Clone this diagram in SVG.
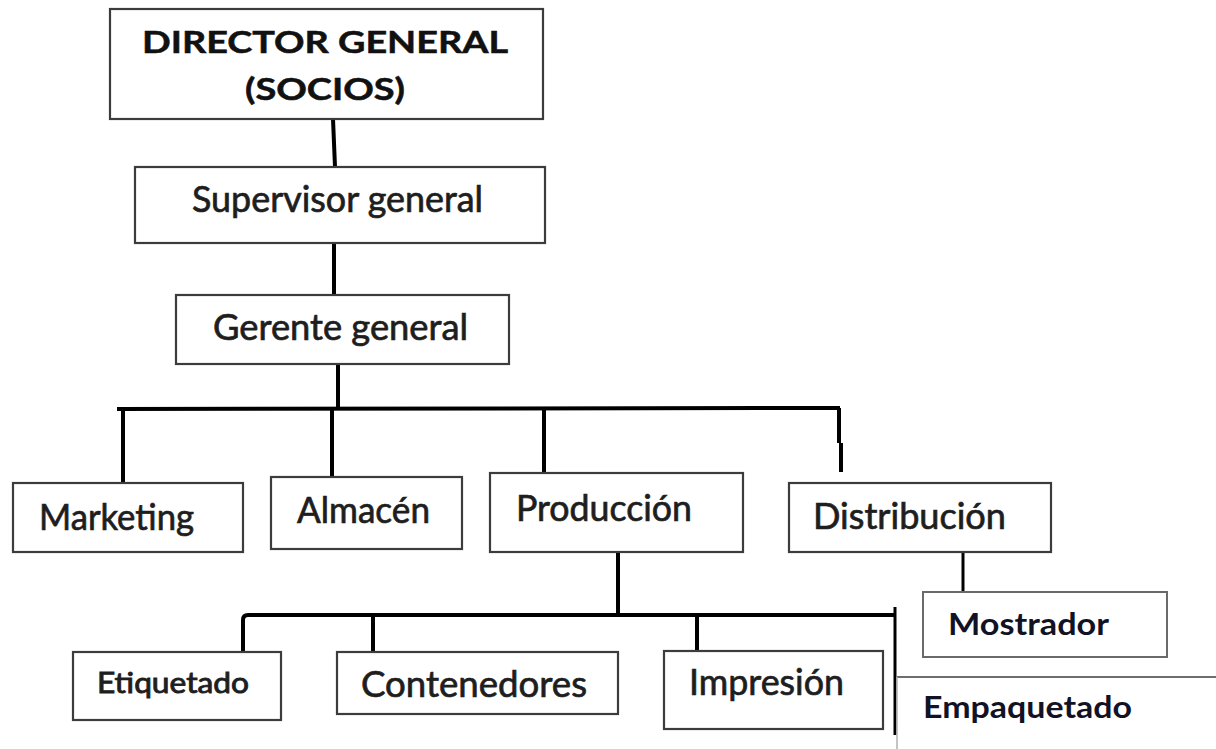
<svg xmlns="http://www.w3.org/2000/svg" width="1216" height="749" viewBox="0 0 1216 749">
<style>
.box{fill:#fff;stroke:#3c3c3c;stroke-width:2.2}
.lbox{fill:#fff;stroke:#6a6a6a;stroke-width:2}
.t{font-family:Lato,"Open Sans","Liberation Sans",sans-serif;fill:#1e1e1e;stroke:#1e1e1e;stroke-width:0.7;font-size:36px}
.tb{font-family:Lato,"Liberation Sans",sans-serif;font-weight:700;fill:#111;stroke:#111;stroke-width:0.5;font-size:30px}
.tc{font-family:Lato,"Open Sans","Liberation Sans",sans-serif;font-weight:700;fill:#121225;font-size:30px}
.c{stroke:#000;stroke-width:4;fill:none;stroke-linecap:butt}
</style>
<rect width="1216" height="749" fill="#fff"/>
<g id="connectors">
<path class="c" d="M333 119 L335 167"/>
<path class="c" d="M334 243 L334 295"/>
<path class="c" d="M338 364 L338 409"/>
<path class="c" d="M117 409 L840 408"/>
<path class="c" d="M123 409 L123 483"/>
<path class="c" d="M332 409 L332 477"/>
<path class="c" d="M544 409 L544 473"/>
<path class="c" d="M839 408 L839 443 M841 443 L841 472"/>
<path class="c" d="M618 552 L618 615"/>
<path class="c" d="M243 652 L243 620 Q243 615 248 615 L895 615"/>
<path class="c" d="M373 615 L373 652"/>
<path class="c" d="M697 615 L697 651"/>
<path class="c" style="stroke-width:3" d="M895 607 L895 735"/>
<path class="c" style="stroke-width:3" d="M963 552 L963 592"/>
</g>
<g id="director"><rect class="box" x="110" y="9" width="433" height="110"/>
<text class="tb" x="142" y="53" textLength="366" lengthAdjust="spacingAndGlyphs">DIRECTOR GENERAL</text>
<text class="tb" x="245" y="100" textLength="160" lengthAdjust="spacingAndGlyphs">(SOCIOS)</text></g>
<g id="supervisor"><rect class="box" x="135" y="167" width="410" height="76"/>
<text class="t" x="192" y="212" textLength="291" lengthAdjust="spacingAndGlyphs">Supervisor general</text></g>
<g id="gerente"><rect class="box" x="176" y="295" width="333" height="69"/>
<text class="t" x="213" y="340" textLength="255" lengthAdjust="spacingAndGlyphs">Gerente general</text></g>
<g id="marketing"><rect class="box" x="13" y="483" width="230" height="69"/>
<text class="t" x="39" y="530" textLength="155" lengthAdjust="spacingAndGlyphs">Marketing</text></g>
<g id="almacen"><rect class="box" x="271" y="477" width="191" height="72"/>
<text class="t" x="297" y="523" textLength="133" lengthAdjust="spacingAndGlyphs">Almacén</text></g>
<g id="produccion"><rect class="box" x="490" y="473" width="253" height="79"/>
<text class="t" x="516" y="521" textLength="176" lengthAdjust="spacingAndGlyphs">Producción</text></g>
<g id="distribucion"><rect class="box" x="789" y="483" width="262" height="69"/>
<text class="t" x="813" y="529" textLength="193" lengthAdjust="spacingAndGlyphs">Distribución</text></g>
<g id="mostrador"><rect class="lbox" x="923" y="592" width="244" height="65"/>
<text class="tc" x="948" y="635" textLength="161" lengthAdjust="spacingAndGlyphs">Mostrador</text></g>
<g id="etiquetado"><rect class="box" x="73" y="652" width="208" height="68"/>
<text class="t" style="font-size:28px;stroke-width:0.9" x="97" y="693" textLength="152" lengthAdjust="spacingAndGlyphs">Etiquetado</text></g>
<g id="contenedores"><rect class="box" x="337" y="652" width="281" height="62"/>
<text class="t" x="361" y="697" textLength="226" lengthAdjust="spacingAndGlyphs">Contenedores</text></g>
<g id="impresion"><rect class="box" x="664" y="651" width="219" height="78"/>
<text class="t" x="689" y="695" textLength="155" lengthAdjust="spacingAndGlyphs">Impresión</text></g>
<g id="empaquetado">
<path d="M897 677 L1216 677" stroke="#6e6e6e" stroke-width="2" fill="none"/>
<path d="M897 677 L897 749" stroke="#b0b0b0" stroke-width="1.5" fill="none"/>
<text class="tc" x="923" y="718" textLength="209" lengthAdjust="spacingAndGlyphs">Empaquetado</text></g>
</svg>
